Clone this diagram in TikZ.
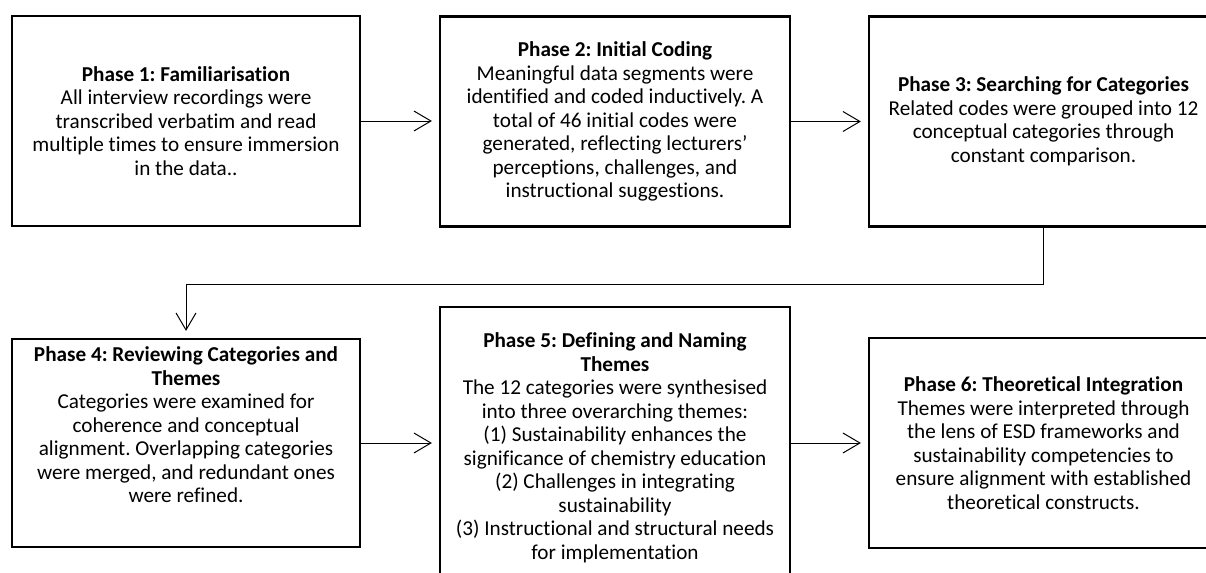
\documentclass[tikz,border=0pt]{standalone}
\usepackage{fontspec}
\setmainfont{Carlito}[Ligatures=NoCommon]
\frenchspacing
\usetikzlibrary{arrows.meta}
\begin{document}
\begin{tikzpicture}[x=0.5pt,y=-0.5pt,
  box/.style={draw=black,line width=1.1pt,rectangle,inner sep=0pt},
  txt/.style={align=center,inner sep=0pt,font=\fontsize{10.6pt}{11.75pt}\selectfont},
  arr/.style={draw=black,line width=0.5pt,-{Straight Barb[length=8.5pt,width=10pt,line width=0.5pt]},shorten >=3.5pt}]
\useasboundingbox (0,0) rectangle (1206,573);
\fill[white] (0,0) rectangle (1206,573);
\clip (0,0) rectangle (1206,573);
% boxes
\node[box,minimum width=174pt,minimum height=105pt] (p1) at (186,121) {};
\node[box,minimum width=175pt,minimum height=105pt] (p2) at (615,121.5) {};
\node[box,minimum width=174.5pt,minimum height=105pt] (p3) at (1043.5,121.5) {};
\node[box,minimum width=174pt,minimum height=104pt] (p4) at (186,443) {};
\node[box,minimum width=175pt,minimum height=141pt] (p5) at (615,448) {};
\node[box,minimum width=174.5pt,minimum height=105pt] (p6) at (1043.5,443) {};
% texts
\node[txt] (t1) at (p1.center) {\textbf{Phase 1: Familiarisation}\\All interview recordings were\\transcribed verbatim and read\\multiple times to ensure immersion\\in the data..};
\node[txt] (t2) at (p2.center) {\textbf{Phase 2: Initial Coding}\\Meaningful data segments were\\identified and coded inductively. A\\total of 46 initial codes were\\generated, reflecting lecturers’\\perceptions, challenges, and\\instructional suggestions.};
\node[txt] (t3) at (p3.center) {\textbf{Phase 3: Searching for Categories}\\Related codes were grouped into 12\\conceptual categories through\\constant comparison.};
\node[txt] (t4) at (186,425) {\textbf{Phase 4: Reviewing Categories and}\\\textbf{Themes}\\Categories were examined for\\coherence and conceptual\\alignment. Overlapping categories\\were merged, and redundant ones\\were refined.};
\node[txt] (t5) at (p5.center) {\textbf{Phase 5: Defining and Naming}\\\textbf{Themes}\\The 12 categories were synthesised\\into three overarching themes:\\(1) Sustainability enhances the\\significance of chemistry education\\(2) Challenges in integrating\\sustainability\\(3) Instructional and structural needs\\for implementation};
\node[txt] (t6) at (p6.center) {\textbf{Phase 6: Theoretical Integration}\\Themes were interpreted through\\the lens of ESD frameworks and\\sustainability competencies to\\ensure alignment with established\\theoretical constructs.};
% connectors
\draw[arr] (p1.east) -- (p1.east -| p2.west);
\draw[arr] (p2.east) -- (p2.east -| p3.west);
\draw[arr] (p3.south) -- ++(0,57) -| (p4.north);
\draw[arr] (p4.east) -- (p4.east -| p5.west);
\draw[arr] (p6.west -| p5.east) -- (p6.west);
\end{tikzpicture}
\end{document}
